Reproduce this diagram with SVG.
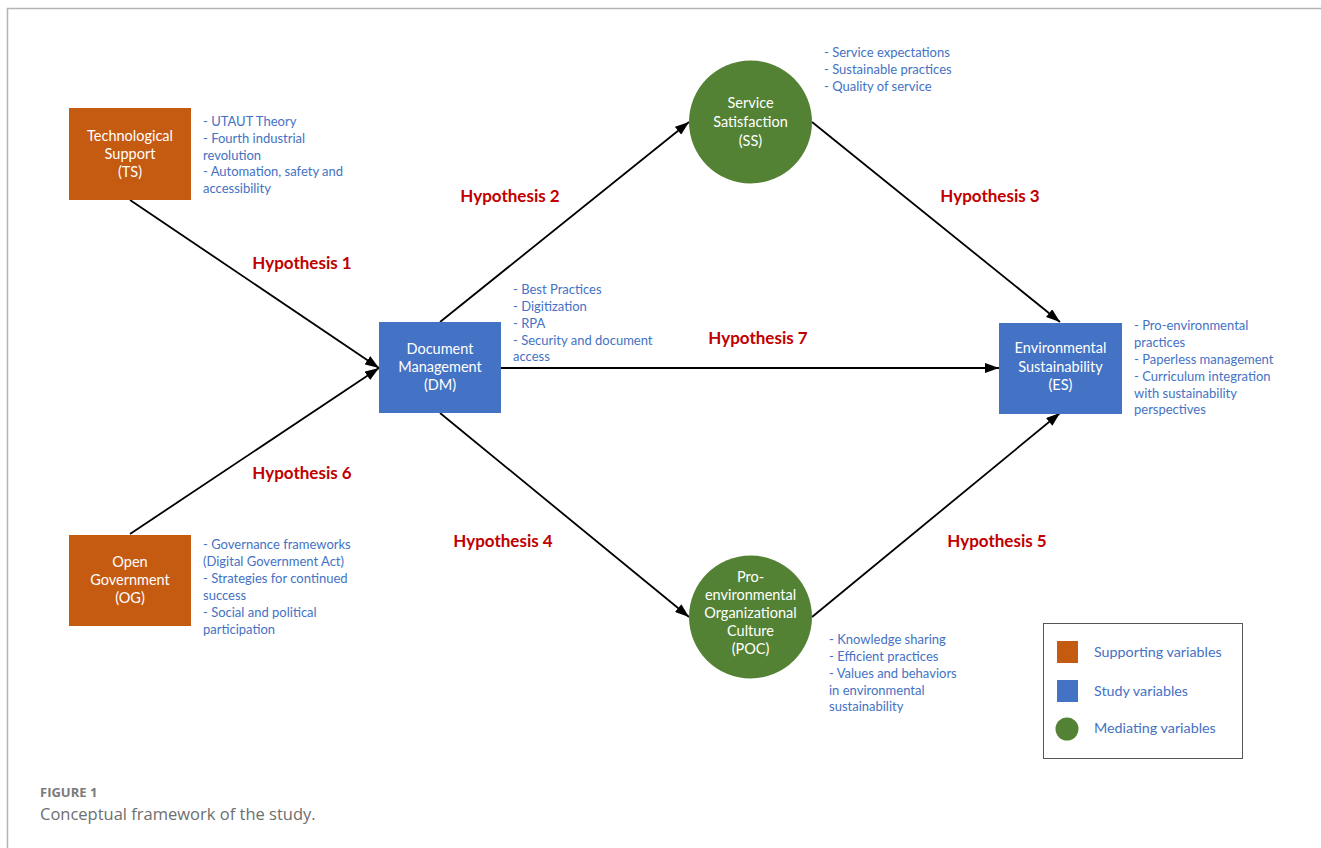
<svg xmlns="http://www.w3.org/2000/svg" width="1321" height="848" viewBox="0 0 1321 848">
<defs>
<style>
.bg{fill:#ffffff}
.frame{fill:none;stroke:#b4b4b4;stroke-width:1.5}
.sup{fill:#C55A11}
.stu{fill:#4472C4}
.med{fill:#548235}
.nt{font-family:Lato,"Liberation Sans",sans-serif;font-size:14.5px;fill:#ffffff;text-anchor:middle}
.bt{font-family:Lato,"Liberation Sans",sans-serif;font-size:13px;fill:#4472C4}
.hy{font-family:Lato,"Liberation Sans",sans-serif;font-size:17px;font-weight:bold;fill:#C00000;text-anchor:middle}
.lg{font-family:Lato,"Liberation Sans",sans-serif;font-size:14.3px;fill:#4472C4}
.conn{stroke:#000000;stroke-width:1.8;fill:none;marker-end:url(#ah)}
.cap1{font-family:"Open Sans","Liberation Sans",sans-serif;font-size:13px;font-weight:bold;fill:#7a7a7a}
.cap2{font-family:"Open Sans","Liberation Sans",sans-serif;font-size:16.5px;fill:#6e6e6e}
</style>
<marker id="ah" viewBox="0 0 14 10" refX="14" refY="5" markerWidth="14" markerHeight="10" markerUnits="userSpaceOnUse" orient="auto">
<path d="M0,0 L14,5 L0,10 z" fill="#000000"/>
</marker>
</defs>
<rect class="bg" x="0" y="0" width="1321" height="848"/>
<path class="frame" d="M7.5,848 L7.5,8.5 L1321,8.5"/>

<g id="connectors">
<line class="conn" x1="130" y1="200" x2="379" y2="368"/>
<line class="conn" x1="130" y1="534" x2="379" y2="368"/>
<line class="conn" x1="440" y1="322" x2="689" y2="122"/>
<line class="conn" x1="812" y1="122" x2="1060" y2="322"/>
<line class="conn" x1="501" y1="368" x2="999" y2="368"/>
<line class="conn" x1="440" y1="413" x2="689" y2="617"/>
<line class="conn" x1="812" y1="617" x2="1060" y2="413"/>
</g>

<g id="hypotheses">
<text class="hy" x="302" y="269">Hypothesis 1</text>
<text class="hy" x="510" y="202">Hypothesis 2</text>
<text class="hy" x="990" y="202">Hypothesis 3</text>
<text class="hy" x="758" y="344">Hypothesis 7</text>
<text class="hy" x="302" y="479">Hypothesis 6</text>
<text class="hy" x="503" y="547">Hypothesis 4</text>
<text class="hy" x="997" y="547">Hypothesis 5</text>
</g>

<g id="TS">
<rect class="sup" x="69" y="108" width="122" height="92"/>
<text class="nt" x="130" y="141">Technological</text>
<text class="nt" x="130" y="159">Support</text>
<text class="nt" x="130" y="177">(TS)</text>
<text class="bt" x="203" y="126">- UTAUT Theory</text>
<text class="bt" x="203" y="143">- Fourth industrial</text>
<text class="bt" x="203" y="160">revolution</text>
<text class="bt" x="203" y="176">- Automation, safety and</text>
<text class="bt" x="203" y="193">accessibility</text>
</g>

<g id="OG">
<rect class="sup" x="69" y="535" width="122" height="91"/>
<text class="nt" x="130" y="567">Open</text>
<text class="nt" x="130" y="585">Government</text>
<text class="nt" x="130" y="603">(OG)</text>
<text class="bt" x="203" y="549">- Governance frameworks</text>
<text class="bt" x="203" y="566">(Digital Government Act)</text>
<text class="bt" x="203" y="583">- Strategies for continued</text>
<text class="bt" x="203" y="600">success</text>
<text class="bt" x="203" y="617">- Social and political</text>
<text class="bt" x="203" y="634">participation</text>
</g>

<g id="DM">
<rect class="stu" x="379" y="322" width="122" height="91"/>
<text class="nt" x="440" y="354">Document</text>
<text class="nt" x="440" y="372">Management</text>
<text class="nt" x="440" y="390">(DM)</text>
<text class="bt" x="513" y="294">- Best Practices</text>
<text class="bt" x="513" y="311">- Digitization</text>
<text class="bt" x="513" y="328">- RPA</text>
<text class="bt" x="513" y="345">- Security and document</text>
<text class="bt" x="513" y="361">access</text>
</g>

<g id="SS">
<circle class="med" cx="750.5" cy="122" r="61.5"/>
<text class="nt" x="750.5" y="108">Service</text>
<text class="nt" x="750.5" y="127">Satisfaction</text>
<text class="nt" x="750.5" y="146">(SS)</text>
<text class="bt" x="824" y="57">- Service expectations</text>
<text class="bt" x="824" y="74">- Sustainable practices</text>
<text class="bt" x="824" y="91">- Quality of service</text>
</g>

<g id="ES">
<rect class="stu" x="999" y="323" width="123" height="91"/>
<text class="nt" x="1060.5" y="353">Environmental</text>
<text class="nt" x="1060.5" y="372">Sustainability</text>
<text class="nt" x="1060.5" y="390">(ES)</text>
<text class="bt" x="1134" y="330">- Pro-environmental</text>
<text class="bt" x="1134" y="347">practices</text>
<text class="bt" x="1134" y="364">- Paperless management</text>
<text class="bt" x="1134" y="381">- Curriculum integration</text>
<text class="bt" x="1134" y="398">with sustainability</text>
<text class="bt" x="1134" y="414">perspectives</text>
</g>

<g id="POC">
<circle class="med" cx="750.5" cy="617" r="61.5"/>
<text class="nt" x="750.5" y="582">Pro-</text>
<text class="nt" x="750.5" y="600">environmental</text>
<text class="nt" x="750.5" y="618">Organizational</text>
<text class="nt" x="750.5" y="636">Culture</text>
<text class="nt" x="750.5" y="654">(POC)</text>
<text class="bt" x="829" y="644">- Knowledge sharing</text>
<text class="bt" x="829" y="661">- Efficient practices</text>
<text class="bt" x="829" y="678">- Values and behaviors</text>
<text class="bt" x="829" y="695">in environmental</text>
<text class="bt" x="829" y="711">sustainability</text>
</g>

<g id="legend">
<rect x="1043.5" y="623.5" width="199" height="135" fill="#ffffff" stroke="#555555" stroke-width="1"/>
<rect class="sup" x="1057" y="641" width="21" height="22"/>
<rect class="stu" x="1057" y="680" width="21" height="22"/>
<circle class="med" cx="1067" cy="729" r="11.5"/>
<text class="lg" x="1094" y="657">Supporting variables</text>
<text class="lg" x="1094" y="696">Study variables</text>
<text class="lg" x="1094" y="733">Mediating variables</text>
</g>

<g id="caption">
<text class="cap1" x="40" y="797">FIGURE 1</text>
<text class="cap2" x="40" y="820">Conceptual framework of the study.</text>
</g>
</svg>
